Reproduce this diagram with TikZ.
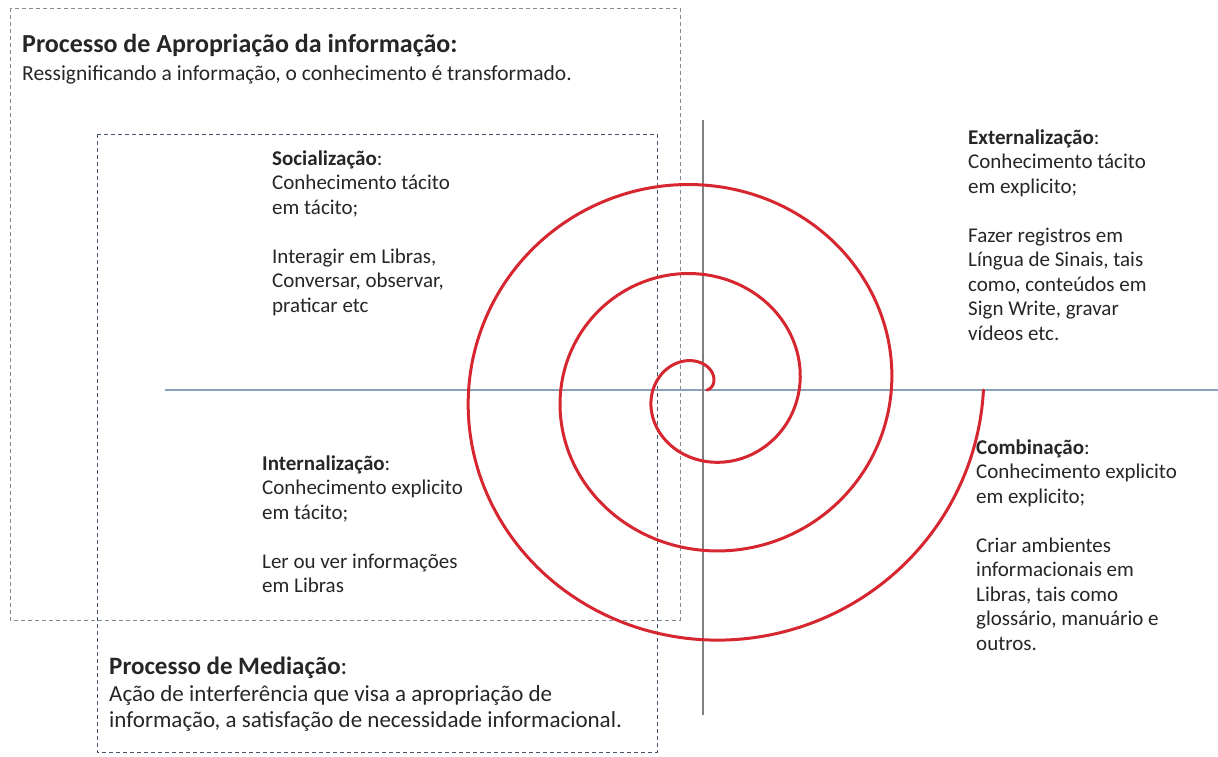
\documentclass[tikz,border=0pt]{standalone}
\usepackage{fontspec}
\setmainfont{Carlito}
\usetikzlibrary{positioning}

\definecolor{spiralred}{RGB}{214,38,48}
\definecolor{axisblue}{RGB}{140,160,185}
\definecolor{axisgray}{RGB}{128,128,128}
\definecolor{boxgray}{RGB}{130,138,150}
\definecolor{boxslate}{RGB}{68,84,106}
\definecolor{inkgray}{RGB}{38,38,38}

\begin{document}
\begin{tikzpicture}[
    x=1pt, y=-1pt,
    body/.style={anchor=base west, inner sep=0pt, align=left, text=inkgray,
                 font=\fontsize{21}{24.5}\selectfont},
    para/.style={body, anchor=north west, yshift=17.15pt},
    heading/.style={body, font=\fontsize{26}{30}\selectfont\bfseries},
    procbox/.style={dash pattern=on 4pt off 3pt, line width=1pt}
  ]
  \useasboundingbox (0,0) rectangle (1218,756);

  % Process frames
  \draw[procbox, boxgray] (10,8) rectangle (680,620);
  \draw[procbox, boxslate] (97,134) rectangle (657,752);

  % Axes
  \coordinate (center) at (703,390);
  \coordinate (axisW) at (165,390);
  \coordinate (axisE) at (1218,390);
  \coordinate (axisN) at (703,120);
  \coordinate (axisS) at (703,715);
  \draw[axisblue, line width=1.5pt] (axisW) -- (axisE);
  \draw[axisgray, line width=2pt] (axisN) -- (axisS);

  % Spiral of knowledge
  \draw[spiralred, line width=3pt, line cap=round]
    plot[domain=0:1080, samples=500, smooth]
    ({703+(4+0.256*\x)*cos(\x)}, {390-0.97*(4+0.256*\x)*sin(\x)});

  % Apropriação
  \node[heading] (apropTitle) at (22,52) {Processo de Apropriação da informação:};
  \node[body, font=\fontsize{21.5}{25}\selectfont] (apropText) at (22,80)
    {Ressignificando a informação, o conhecimento é transformado.};

  % Quadrants
  \node[para] (social) at (272,165)
    {\strut\textbf{Socialização}:\\ Conhecimento tácito\\ em tácito;\\[24.5pt]
     Interagir em Libras,\\ Conversar, observar,\\ praticar etc};
  \node[para] (extern) at (968,144)
    {\strut\textbf{Externalização}:\\ Conhecimento tácito\\ em explicito;\\[24.5pt]
     Fazer registros em\\ Língua de Sinais, tais\\ como, conteúdos em\\
     Sign Write, gravar\\ vídeos etc.};
  \node[para] (intern) at (262,470)
    {\strut\textbf{Internalização}:\\ Conhecimento explicito\\ em tácito;\\[24.5pt]
     Ler ou ver informações\\ em Libras};
  \node[para] (combin) at (976,454)
    {\strut\textbf{Combinação}:\\ Conhecimento explicito\\ em explicito;\\[24.5pt]
     Criar ambientes\\ informacionais em\\ Libras, tais como\\
     glossário, manuário e\\ outros.};

  % Mediação
  \node[heading, font=\fontsize{25}{30}\selectfont\bfseries] (mediaTitle) at (109,674)
    {Processo de Mediação\textmd{:}};
  \node[para, font=\fontsize{23}{26}\selectfont, yshift=1pt] (mediaText) at (109,701)
    {\strut Ação de interferência que visa a apropriação de\\
     informação, a satisfação de necessidade informacional.};
\end{tikzpicture}
\end{document}
